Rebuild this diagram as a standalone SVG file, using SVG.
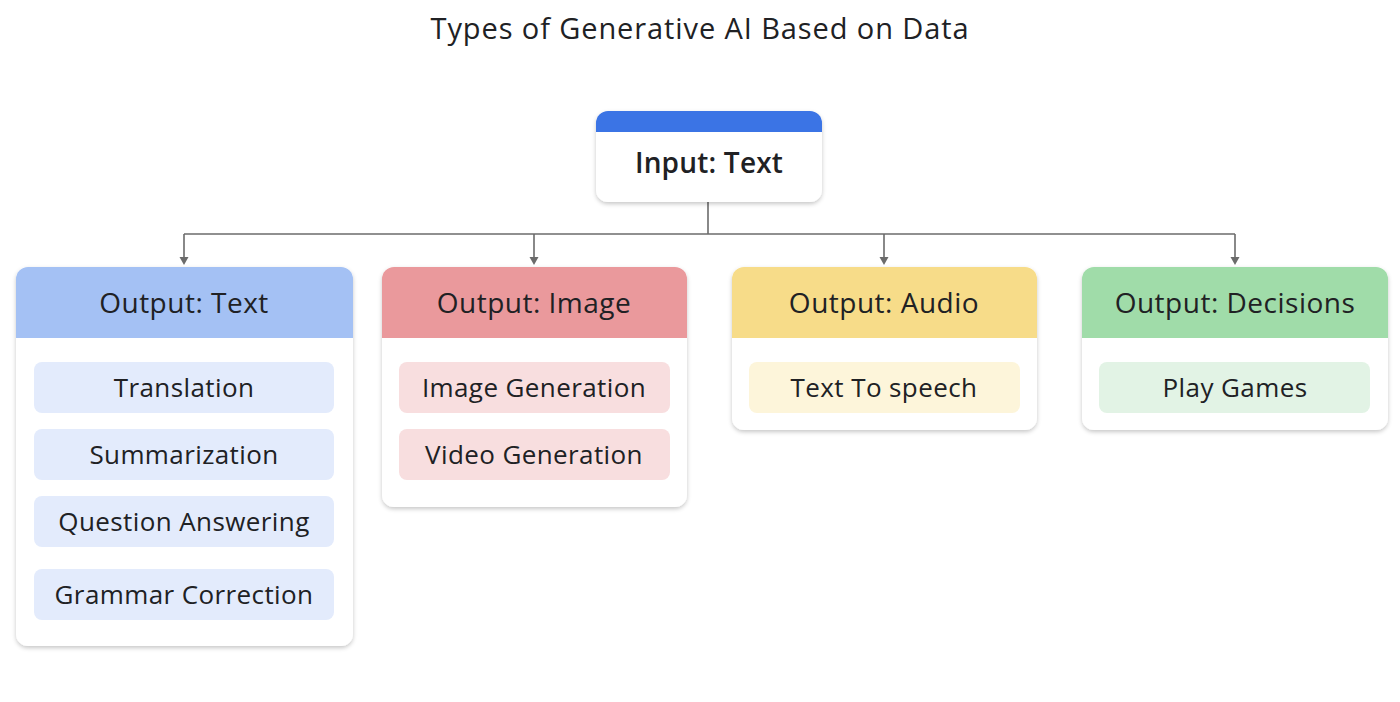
<svg xmlns="http://www.w3.org/2000/svg" width="1400" height="702" viewBox="0 0 1400 702">
<defs>
<style>
text{font-family:"Open Sans",Roboto,"Liberation Sans",sans-serif;text-anchor:middle;fill:#202124}
.title{font-size:29px;letter-spacing:0.9px}
.head{font-size:28px;letter-spacing:0.5px}
.pill{font-size:26px;letter-spacing:0.4px}
.top{font-size:28px;font-weight:600;letter-spacing:0.2px}
.card{fill:#ffffff;filter:url(#sh)}
.conn{fill:none;stroke:#6b6b6b;stroke-width:1.6}
</style>
<filter id="sh" x="-10%" y="-10%" width="120%" height="125%">
<feDropShadow dx="0" dy="2" stdDeviation="2" flood-color="#000" flood-opacity="0.22"/>
</filter>
<clipPath id="c0"><rect x="596" y="111" width="226" height="91" rx="12"/></clipPath>
<clipPath id="c1"><rect x="16" y="267" width="337" height="379" rx="12"/></clipPath>
<clipPath id="c2"><rect x="382" y="267" width="305" height="240" rx="12"/></clipPath>
<clipPath id="c3"><rect x="732" y="267" width="305" height="163" rx="12"/></clipPath>
<clipPath id="c4"><rect x="1082" y="267" width="306" height="163" rx="12"/></clipPath>
</defs>
<rect width="1400" height="702" fill="#ffffff"/>
<text class="title" x="700" y="39">Types of Generative AI Based on Data</text>

<g id="connectors">
<path class="conn" d="M708,202 V234"/>
<path class="conn" d="M184,234 H1235"/>
<path class="conn" d="M184,234 V258"/>
<path class="conn" d="M534,234 V258"/>
<path class="conn" d="M884,234 V258"/>
<path class="conn" d="M1235,234 V258"/>
<path d="M179.5,257 L188.5,257 L184,265 Z" fill="#6b6b6b"/>
<path d="M529.5,257 L538.5,257 L534,265 Z" fill="#6b6b6b"/>
<path d="M879.5,257 L888.5,257 L884,265 Z" fill="#6b6b6b"/>
<path d="M1230.5,257 L1239.5,257 L1235,265 Z" fill="#6b6b6b"/>
</g>

<g id="input-text">
<rect class="card" x="596" y="111" width="226" height="91" rx="12"/>
<rect x="596" y="111" width="226" height="21" fill="#3b74e5" clip-path="url(#c0)"/>
<text class="top" x="709" y="173">Input: Text</text>
</g>

<g id="output-text">
<rect class="card" x="16" y="267" width="337" height="379" rx="12"/>
<rect x="16" y="267" width="337" height="71" fill="#a4c1f4" clip-path="url(#c1)"/>
<text class="head" x="184" y="313">Output: Text</text>
<rect x="34" y="362" width="300" height="51" rx="8" fill="#e3ebfc"/>
<text class="pill" x="184" y="397">Translation</text>
<rect x="34" y="429" width="300" height="51" rx="8" fill="#e3ebfc"/>
<text class="pill" x="184" y="464">Summarization</text>
<rect x="34" y="496" width="300" height="51" rx="8" fill="#e3ebfc"/>
<text class="pill" x="184" y="531">Question Answering</text>
<rect x="34" y="569" width="300" height="51" rx="8" fill="#e3ebfc"/>
<text class="pill" x="184" y="604">Grammar Correction</text>
</g>

<g id="output-image">
<rect class="card" x="382" y="267" width="305" height="240" rx="12"/>
<rect x="382" y="267" width="305" height="71" fill="#ea999c" clip-path="url(#c2)"/>
<text class="head" x="534" y="313">Output: Image</text>
<rect x="399" y="362" width="271" height="51" rx="8" fill="#f8dedf"/>
<text class="pill" x="534" y="397">Image Generation</text>
<rect x="399" y="429" width="271" height="51" rx="8" fill="#f8dedf"/>
<text class="pill" x="534" y="464">Video Generation</text>
</g>

<g id="output-audio">
<rect class="card" x="732" y="267" width="305" height="163" rx="12"/>
<rect x="732" y="267" width="305" height="71" fill="#f7dc89" clip-path="url(#c3)"/>
<text class="head" x="884" y="313">Output: Audio</text>
<rect x="749" y="362" width="271" height="51" rx="8" fill="#fdf5da"/>
<text class="pill" x="884" y="397">Text To speech</text>
</g>

<g id="output-decisions">
<rect class="card" x="1082" y="267" width="306" height="163" rx="12"/>
<rect x="1082" y="267" width="306" height="71" fill="#a0dca9" clip-path="url(#c4)"/>
<text class="head" x="1235" y="313">Output: Decisions</text>
<rect x="1099" y="362" width="271" height="51" rx="8" fill="#e2f3e5"/>
<text class="pill" x="1235" y="397">Play Games</text>
</g>
</svg>
